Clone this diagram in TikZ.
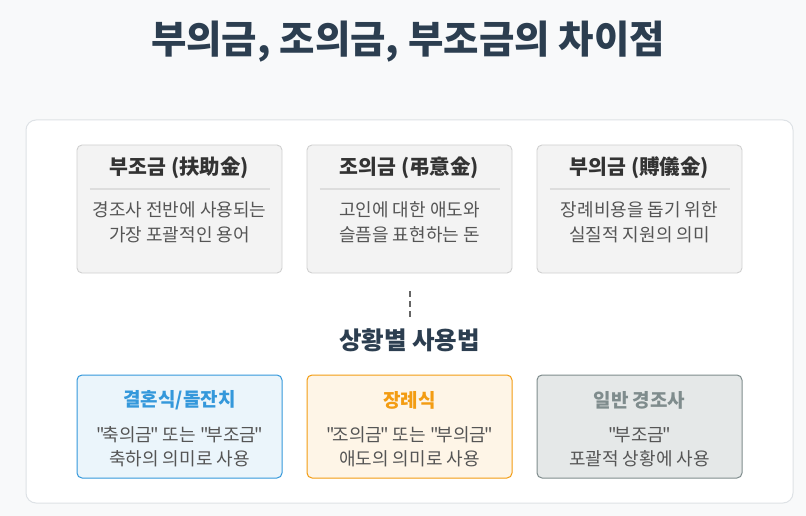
\documentclass[tikz,border=0pt]{standalone}
\usepackage{fontspec}
\setmainfont{Noto Sans CJK KR}[Ligatures=TeXOff]
\newcommand{\qo}{"\kern-2pt}
\newcommand{\qc}{\kern-2pt"}
\definecolor{bgc}{HTML}{F8F9FA}
\definecolor{panelb}{HTML}{DEE2E6}
\definecolor{titc}{HTML}{2C3E50}
\definecolor{cardf}{HTML}{F3F3F3}
\definecolor{cardb}{HTML}{D0D0D0}
\definecolor{cardt}{HTML}{333333}
\definecolor{descc}{HTML}{555555}
\definecolor{sepc}{HTML}{DDDDDD}
\definecolor{bluef}{HTML}{EBF5FB}
\definecolor{blueb}{HTML}{3498DB}
\definecolor{orangef}{HTML}{FEF5E7}
\definecolor{orangeb}{HTML}{F39C12}
\definecolor{grayf}{HTML}{E5E8E8}
\definecolor{grayb}{HTML}{7F8C8D}
\definecolor{dashc}{HTML}{666666}
\tikzset{
  card/.style={draw=cardb, fill=cardf, line width=0.9pt, rounded corners=5pt},
  usebox/.style={line width=1pt, rounded corners=5pt},
  cardtitle/.style={font=\fontsize{20.5}{24}\selectfont\bfseries, text=cardt, inner sep=0pt},
  usetitle/.style={font=\fontsize{19}{23}\selectfont\bfseries, inner sep=0pt},
  desc/.style={font=\fontsize{18}{22}\selectfont, text=descc, inner sep=0pt},
  sepline/.style={draw=sepc, line width=1.2pt},
}
\begin{document}
\begin{tikzpicture}[x=1pt,y=-1pt]
\useasboundingbox (0,0) rectangle (806,516);
\fill[bgc] (0,0) rectangle (806,516);
% title
\node[font=\fontsize{38.5}{46}\selectfont\bfseries, text=titc, inner sep=0pt] (title) at (408,42) {부의금, 조의금, 부조금의 차이점};
% panel
\node[draw=panelb, fill=white, line width=1pt, rounded corners=10pt, minimum width=767pt, minimum height=383pt, inner sep=0pt] (panel) at (409.5,311.5) {};
% top cards
\foreach \cx/\nm/\tt/\la/\lb in {
  179.5/a/{부조금 (扶助金)}/{경조사 전반에 사용되는}/{가장 포괄적인 용어},
  409.5/b/{조의금 (弔意金)}/{고인에 대한 애도와}/{슬픔을 표현하는 돈},
  639.5/c/{부의금 (賻儀金)}/{장례비용을 돕기 위한}/{실질적 지원의 의미}}{
  \node[card, minimum width=205pt, minimum height=128pt, inner sep=0pt] (card\nm) at (\cx,209) {};
  \node[cardtitle] (card\nm t) at (\cx,168) {\tt};
  \coordinate (card\nm s1) at ([xshift=-90pt]\cx,189);
  \coordinate (card\nm s2) at ([xshift=90pt]\cx,189);
  \draw[sepline] (card\nm s1) -- (card\nm s2);
  \node[desc] (card\nm d1) at (\cx,210) {\la};
  \node[desc] (card\nm d2) at (\cx,235) {\lb};
}
% dashed connector
\coordinate (dtop) at (409.5,291);
\node[font=\fontsize{24.5}{29}\selectfont\bfseries, text=titc, inner sep=0pt] (sub) at (409.5,340) {상황별 사용법};
\coordinate (dbot) at (409.5,318);
\draw[dashc, line width=2pt, dash pattern=on 6pt off 4pt] (dtop) -- (dbot);
% bottom cards
\foreach \cx/\nm/\fc/\bc/\tt/\la/\lb in {
  179.5/x/bluef/blueb/{결혼식/돌잔치}/{\qo 축의금\qc{} 또는 \qo 부조금\qc}/{축하의 의미로 사용},
  409.5/y/orangef/orangeb/{장례식}/{\qo 조의금\qc{} 또는 \qo 부의금\qc}/{애도의 의미로 사용},
  639.5/z/grayf/grayb/{일반 경조사}/{\qo 부조금\qc}/{포괄적 상황에 사용}}{
  \node[usebox, draw=\bc, fill=\fc, minimum width=205pt, minimum height=103pt, inner sep=0pt] (use\nm) at (\cx,426.5) {};
  \node[usetitle, text=\bc] (use\nm t) at (\cx,400) {\tt};
  \node[desc] (use\nm d1) at (\cx,435) {\la};
  \node[desc] (use\nm d2) at (\cx,459) {\lb};
}
\end{tikzpicture}
\end{document}
